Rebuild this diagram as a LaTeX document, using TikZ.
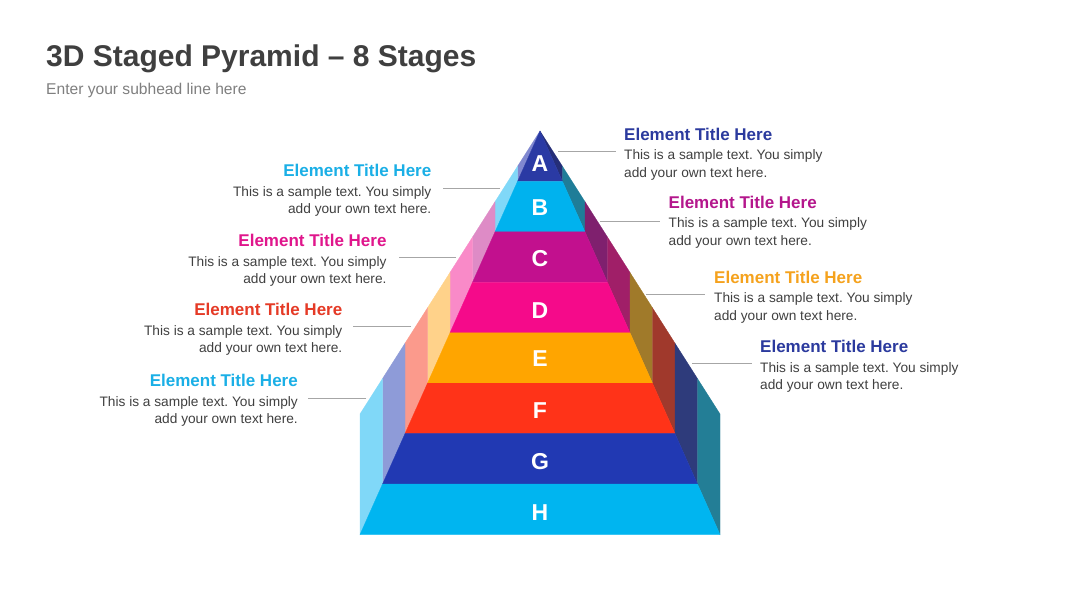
\documentclass[tikz,border=0pt]{standalone}
\usepackage{fontspec}
\setmainfont{Liberation Sans}
\frenchspacing
\definecolor{cA}{HTML}{2A3AA4}
\definecolor{cB}{HTML}{00B2EE}
\definecolor{cC}{HTML}{C2108E}
\definecolor{cD}{HTML}{F50A8A}
\definecolor{cE}{HTML}{FFA500}
\definecolor{cF}{HTML}{FF3318}
\definecolor{cG}{HTML}{2139B3}
\definecolor{cH}{HTML}{00B5F0}
\definecolor{lA}{HTML}{8088D0}
\definecolor{lB}{HTML}{80D8F8}
\definecolor{lC}{HTML}{DE8BC6}
\definecolor{lD}{HTML}{F98AC8}
\definecolor{lE}{HTML}{FFD28A}
\definecolor{lF}{HTML}{FB9A8C}
\definecolor{lG}{HTML}{8E9BD8}
\definecolor{lH}{HTML}{80D8F8}
\definecolor{rA}{HTML}{252E78}
\definecolor{rB}{HTML}{1F7D98}
\definecolor{rC}{HTML}{7F206E}
\definecolor{rD}{HTML}{A01F68}
\definecolor{rE}{HTML}{A07A2A}
\definecolor{rF}{HTML}{A0392C}
\definecolor{rG}{HTML}{2E3B7B}
\definecolor{rH}{HTML}{237E96}
\definecolor{tBlue}{HTML}{2B3A9E}
\definecolor{tSky}{HTML}{1AAFE6}
\definecolor{tPlum}{HTML}{B4168C}
\definecolor{tPink}{HTML}{E0168C}
\definecolor{tOrange}{HTML}{F5A21D}
\definecolor{tRed}{HTML}{E53A26}
\definecolor{headgray}{HTML}{3F3F3F}
\definecolor{subgray}{HTML}{7F7F7F}
\definecolor{bodygray}{HTML}{404040}
\definecolor{linegray}{HTML}{A6A6A6}
\begin{document}
\begin{tikzpicture}[x=1pt,y=-1pt,
  conn/.style={draw=linegray, line width=0.9pt},
  ttl/.style={font=\fontsize{17}{20}\selectfont\bfseries, inner sep=0pt},
  body/.style={font=\fontsize{13.7}{18}\selectfont, text=bodygray, inner sep=0pt},
  letter/.style={font=\fontsize{23}{23}\selectfont\bfseries, text=white, inner sep=0pt, anchor=center}]
\useasboundingbox (0,0) rectangle (1080,608);
\fill[white] (0,0) rectangle (1080,608);

% heading
\node[font=\fontsize{30}{32}\selectfont\bfseries, text=headgray, inner sep=0pt, anchor=base west] (head) at (46,66.5) {3D Staged Pyramid – 8 Stages};
\node[font=\fontsize{15.6}{18}\selectfont, text=subgray, inner sep=0pt, anchor=base west] (sub) at (46,94) {Enter your subhead line here};

% pyramid stage side faces
\foreach \i/\lc/\rc in {0/lA/rA,1/lB/rB,2/lC/rC,3/lD/rD,4/lE/rE,5/lF/rF,6/lG/rG,7/lH/rH}{
  \pgfmathsetmacro\yt{131+50.44*\i}
  \pgfmathsetmacro\yb{\yt+50.44}
  \pgfmathsetmacro\xi{22.5*\i}
  \pgfmathsetmacro\xo{22.5*(\i+1)}
  \pgfmathsetmacro\si{131+\xi/180*283}
  \pgfmathsetmacro\so{131+\xo/180*283}
  \filldraw[fill=\lc, draw=\lc, line width=0.3pt] (540-\xo,\yb) -- (540-\xo,\so) -- (540-\xi,\si) -- (540-\xi,\yt) -- cycle;
  \filldraw[fill=\rc, draw=\rc, line width=0.3pt] (540+\xo,\yb) -- (540+\xo,\so) -- (540+\xi,\si) -- (540+\xi,\yt) -- cycle;
}
% pyramid stage front faces
\foreach \i/\fc in {0/cA,1/cB,2/cC,3/cD,4/cE,5/cF,6/cG,7/cH}{
  \pgfmathsetmacro\yt{131+50.44*\i}
  \pgfmathsetmacro\yb{\yt+50.44}
  \pgfmathsetmacro\xi{22.5*\i}
  \pgfmathsetmacro\xo{22.5*(\i+1)}
  \filldraw[fill=\fc, draw=\fc, line width=0.3pt] (540-\xi,\yt) -- (540+\xi,\yt) -- (540+\xo,\yb) -- (540-\xo,\yb) -- cycle;
}

% stage letters
\foreach \L/\yy in {A/164,B/208,C/259,D/311,E/358.5,F/411,G/461.5,H/513}{
  \node[letter] (s\L) at (540,\yy) {\L};
}

% right labels
\node[ttl, text=tBlue, anchor=base west] (tR1) at (624,140) {Element Title Here};
\node[body, anchor=base west] (bR1a) at (624,159.3) {This is a sample text. You simply};
\node[body, anchor=base west] (bR1b) at (624,177) {add your own text here.};
\node[ttl, text=tPlum, anchor=base west] (tR2) at (668.5,208.5) {Element Title Here};
\node[body, anchor=base west] (bR2a) at (668.5,227.8) {This is a sample text. You simply};
\node[body, anchor=base west] (bR2b) at (668.5,245.5) {add your own text here.};
\node[ttl, text=tOrange, anchor=base west] (tR3) at (714,283.3) {Element Title Here};
\node[body, anchor=base west] (bR3a) at (714,302.6) {This is a sample text. You simply};
\node[body, anchor=base west] (bR3b) at (714,320.3) {add your own text here.};
\node[ttl, text=tBlue, anchor=base west] (tR4) at (760,352.7) {Element Title Here};
\node[body, anchor=base west] (bR4a) at (760,372) {This is a sample text. You simply};
\node[body, anchor=base west] (bR4b) at (760,389.7) {add your own text here.};

% left labels
\node[ttl, text=tSky, anchor=base east] (tL1) at (431.5,176.7) {Element Title Here};
\node[body, anchor=base east] (bL1a) at (431.5,196) {This is a sample text. You simply};
\node[body, anchor=base east] (bL1b) at (431.5,213.7) {add your own text here.};
\node[ttl, text=tPink, anchor=base east] (tL2) at (386.7,246.7) {Element Title Here};
\node[body, anchor=base east] (bL2a) at (386.7,266) {This is a sample text. You simply};
\node[body, anchor=base east] (bL2b) at (386.7,283.7) {add your own text here.};
\node[ttl, text=tRed, anchor=base east] (tL3) at (342.5,315.7) {Element Title Here};
\node[body, anchor=base east] (bL3a) at (342.5,335) {This is a sample text. You simply};
\node[body, anchor=base east] (bL3b) at (342.5,352.7) {add your own text here.};
\node[ttl, text=tSky, anchor=base east] (tL4) at (298,386.7) {Element Title Here};
\node[body, anchor=base east] (bL4a) at (298,406) {This is a sample text. You simply};
\node[body, anchor=base east] (bL4b) at (298,423.7) {add your own text here.};

% connector end points
\coordinate (pR1) at (558,151);   \coordinate (eR1) at (616,151);
\coordinate (pR2) at (600,221);   \coordinate (eR2) at (660,221);
\coordinate (pR3) at (646,294.5); \coordinate (eR3) at (705,294.5);
\coordinate (pR4) at (692,363);   \coordinate (eR4) at (752,363);
\coordinate (pL1) at (500,188);   \coordinate (eL1) at (443,188);
\coordinate (pL2) at (456,257.5); \coordinate (eL2) at (399,257.5);
\coordinate (pL3) at (411,326);   \coordinate (eL3) at (353,326);
\coordinate (pL4) at (366,398);   \coordinate (eL4) at (308,398);
\foreach \k in {R1,R2,R3,R4,L1,L2,L3,L4}{
  \draw[conn] (p\k) -- (e\k);
}
\end{tikzpicture}
\end{document}
